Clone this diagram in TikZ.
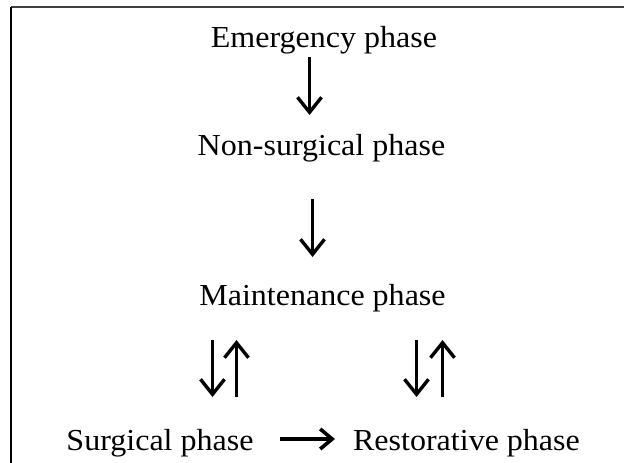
\documentclass[tikz,border=0pt]{standalone}
\usepackage{fontspec}
\setmainfont{Liberation Serif}[FakeStretch=1.05]
\usetikzlibrary{arrows.meta}
\begin{document}
\begin{tikzpicture}[x=1pt,y=-1pt,
  lbl/.style={anchor=base, inner sep=0pt, font=\fontsize{30.5}{36}\selectfont},
  arr/.style={line width=3.6pt, -{Straight Barb[length=15pt,width=24pt,line width=3.4pt]}},
  harr/.style={line width=3.8pt, -{Straight Barb[length=12pt,width=20pt,line width=3.6pt]}}]
\useasboundingbox (0,0) rectangle (624,463);
% frame
\draw[line width=2pt, black!75] (11,7) -- (624,7);
\draw[line width=1.2pt] (11,7) -- (11,463);
% texts
\node[lbl] (em) at (324,47) {Emergency phase};
\node[lbl] (ns) at (321.5,155) {Non-surgical phase};
\node[lbl] (mt) at (322.5,305) {Maintenance phase};
\node[lbl] (sg) at (160,450) {Surgical phase};
\node[lbl] (rs) at (466.5,450) {Restorative phase};
% arrow end points
\coordinate (a1s) at (309.5,57);  \coordinate (a1e) at (309.5,115);
\coordinate (a2s) at (312.5,199); \coordinate (a2e) at (312.5,257);
\coordinate (l1s) at (212.5,340); \coordinate (l1e) at (212.5,397);
\coordinate (l2s) at (236.5,397); \coordinate (l2e) at (236.5,340);
\coordinate (r1s) at (416.5,340); \coordinate (r1e) at (416.5,397);
\coordinate (r2s) at (442.5,397); \coordinate (r2e) at (442.5,340);
\coordinate (hs) at (280,439);    \coordinate (he) at (335,439);
\draw[arr] (a1s) -- (a1e);
\draw[arr] (a2s) -- (a2e);
\draw[arr] (l1s) -- (l1e);
\draw[arr] (l2s) -- (l2e);
\draw[arr] (r1s) -- (r1e);
\draw[arr] (r2s) -- (r2e);
\draw[harr] (hs) -- (he);
\end{tikzpicture}
\end{document}
